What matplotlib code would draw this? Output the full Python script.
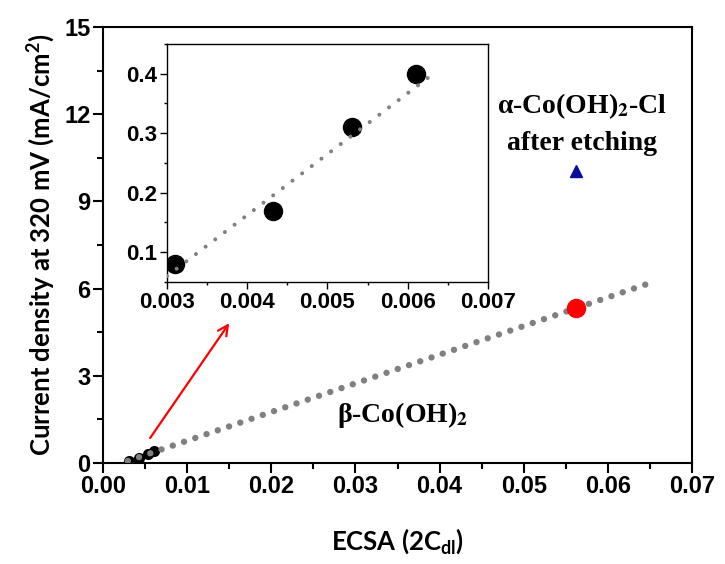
import matplotlib
matplotlib.use("Agg")
import matplotlib.pyplot as plt
from matplotlib.ticker import MultipleLocator

plt.rcParams['mathtext.fontset'] = 'custom'
plt.rcParams['mathtext.rm'] = 'Lato:bold'
plt.rcParams['mathtext.bf'] = 'Lato:bold'
plt.rcParams['mathtext.it'] = 'Lato:bold'

# ---- data ----
inset_ecsa = [0.0031, 0.00432, 0.0053, 0.0061]
inset_j = [0.0806, 0.1686, 0.3097, 0.400]
inset_fit_x = [0.0030, 0.00625]
inset_fit_y = [0.060, 0.393]

beta_ecsa = [0.0562]
beta_j = [5.32]
alpha_ecsa = [0.0562]
alpha_j = [10.06]

main_fit_x = [0.00294, 0.06549]
main_fit_y = [0.07, 6.24]

arrow_start = (0.0056, 0.86)
arrow_end = (0.0150, 4.81)

main_xticks = [0.00, 0.01, 0.02, 0.03, 0.04, 0.05, 0.06, 0.07]
main_yticks = [0, 3, 6, 9, 12, 15]
inset_xticks = [0.003, 0.004, 0.005, 0.006, 0.007]
inset_yticks = [0.1, 0.2, 0.3, 0.4]

fig = plt.figure(figsize=(7.25, 5.64), dpi=100)
ax = fig.add_axes([0.1421, 0.1791, 0.8124, 0.7730])

gray = '#808080'
ax.plot(inset_ecsa, inset_j, 'o', color='black', ms=7, zorder=2)
ax.plot(main_fit_x, main_fit_y, color=gray, lw=4.6, linestyle=(0, (0.01, 1.85)),
        dash_capstyle='round', solid_capstyle='round', zorder=3)
ax.plot(beta_ecsa, beta_j, 'o', color='#ff0000', ms=13, zorder=4)
ax.plot(alpha_ecsa, alpha_j, '^', color='#0c0c9c', ms=8, zorder=4)

ax.annotate('', xy=arrow_end, xytext=arrow_start,
            arrowprops=dict(arrowstyle='->', color='#ff0000', lw=1.6,
                            mutation_scale=18, shrinkA=0, shrinkB=0))

ax.set_xlim(0, 0.07)
ax.set_ylim(0, 15)
ax.set_xticks(main_xticks)
ax.set_xticklabels(['%.2f' % v for v in main_xticks])
ax.set_yticks(main_yticks)
ax.set_yticklabels([str(v) for v in main_yticks])
ax.xaxis.set_minor_locator(MultipleLocator(0.005))
ax.yaxis.set_minor_locator(MultipleLocator(1.5))
for s in ax.spines.values():
    s.set_linewidth(1.5)
ax.tick_params(which='major', direction='out', length=7, width=1.5,
               labelsize=17, pad=2)
ax.tick_params(which='minor', direction='out', length=4, width=1.5)
for lab in ax.get_xticklabels() + ax.get_yticklabels():
    lab.set_fontfamily('Liberation Sans')
    lab.set_fontweight('bold')

ax.set_xlabel('ECSA (2C$_{dl}$)', fontfamily='Lato', fontweight='bold',
              fontsize=18.5, labelpad=20)
ax.set_ylabel('Current density at 320 mV (mA/cm$^{2}$)', fontfamily='Lato',
              fontweight='bold', fontsize=18.5, labelpad=5)

serif = dict(fontfamily='Liberation Serif', fontweight='bold', fontsize=20,
             math_fontfamily='stix', ha='center', va='center')
ax.text(0.0569, 12.28, r'α-Co(OH)$_{\mathbf{2}}$-Cl', **serif)
ax.text(0.0569, 11.0, 'after etching', **serif)
ax.text(0.0356, 1.65, r'β-Co(OH)$_{\mathbf{2}}$', **serif)

# ---- inset ----
ax2 = fig.add_axes([0.2303, 0.5, 0.4428, 0.4220])
ax2.plot(inset_ecsa, inset_j, 'o', color='black', ms=13, zorder=2)
ax2.plot(inset_fit_x, inset_fit_y, color=gray, lw=2.9, linestyle=(0, (0.01, 3.0)),
         dash_capstyle='round', zorder=3)
ax2.set_xlim(0.003, 0.007)
ax2.set_ylim(0.05, 0.45)
ax2.set_xticks(inset_xticks)
ax2.set_xticklabels(['%.3f' % v for v in inset_xticks])
ax2.set_yticks(inset_yticks)
ax2.set_yticklabels(['%.1f' % v for v in inset_yticks])
ax2.xaxis.set_minor_locator(MultipleLocator(0.0005))
ax2.yaxis.set_minor_locator(MultipleLocator(0.05))
for s in ax2.spines.values():
    s.set_linewidth(1.0)
ax2.tick_params(which='major', direction='out', length=5, width=1.0,
                labelsize=16, pad=2)
ax2.tick_params(which='minor', direction='out', length=2.5, width=1.0)
for lab in ax2.get_xticklabels() + ax2.get_yticklabels():
    lab.set_fontfamily('Liberation Sans')
    lab.set_fontweight('bold')

fig.savefig('out.png', dpi=100)
